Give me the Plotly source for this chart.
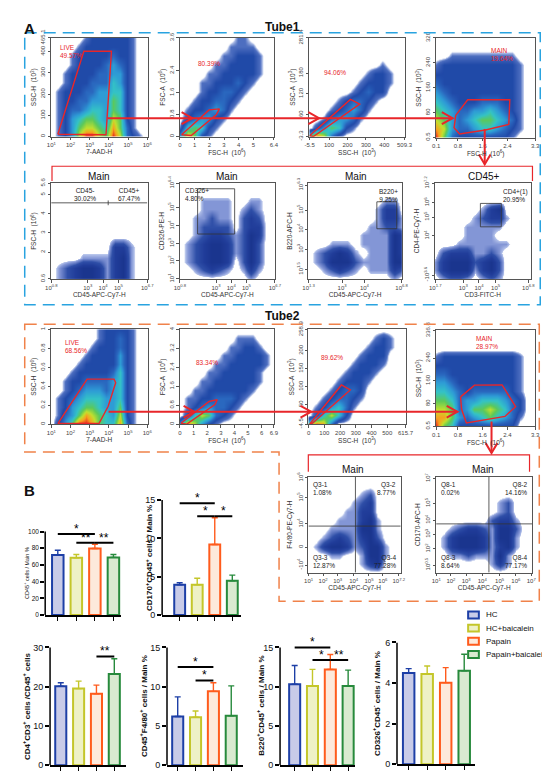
import numpy as np
import plotly.graph_objects as go

W, H = 550, 774

# ---------------- panel B: bar charts ----------------
groups = ["HC", "HC+baicalein", "Papain", "Papain+baicalein"]
edge_colors = ["#1d3fa6", "#c4c62a", "#ff5b1c", "#278a3c"]
fill_colors = ["#c8cbe8", "#eef1c6", "#fde9db", "#d9ead0"]

cd45_mean = [72.0, 68.6, 79.6, 69.0]
cd45_sd = [5.6, 3.9, 5.1, 3.5]
cd170_mean = [3.95, 3.95, 9.2, 4.46]
cd170_sd = [0.25, 0.85, 3.5, 0.74]
cd4_mean = [20.1, 19.5, 18.2, 23.2]
cd4_sd = [0.9, 1.9, 2.2, 3.9]
f480_mean = [6.2, 6.1, 9.4, 6.3]
f480_sd = [2.5, 0.8, 1.1, 3.8]
b220_mean = [10.3, 10.1, 12.2, 10.1]
b220_sd = [2.4, 2.1, 1.9, 2.0]
cd326_mean = [4.50, 4.45, 4.02, 4.61]
cd326_sd = [0.21, 0.39, 0.74, 0.81]

# significance brackets: (group a, group b, height, stars)
cd45_sig = [(1, 3, 97, "*"), (2, 3, 86.5, "**"), (3, 4, 86.5, "**")]
cd170_sig = [(1, 3, 14.6, "*"), (2, 3, 12.9, "*"), (3, 4, 12.9, "*")]
cd4_sig = [(3, 4, 27.7, "**")]
f480_sig = [(1, 3, 12.5, "*"), (2, 3, 10.8, "*")]
b220_sig = [(1, 3, 15.0, "*"), (2, 3, 13.4, "*"), (3, 4, 13.4, "**")]
cd326_sig = []

# ---------------- panel A: flow cytometry dot plots ----------------
# density level on a coarse grid (top row first)
t1_live = ["000001222222100", "000012222222100", "000122222322100", "000122223432100",
           "001222233442100", "001222333542100", "012223344552100", "012233444652100",
           "012334554652100", "012456654762100", "012467765863100", "012479976973210"]
t1_fsc = ["00000000110000", "00000001111000", "00000011222100", "00000112222100",
          "00001122222100", "00011222321000", "00012233210000", "00122332100000",
          "01223431000000", "02344210000000", "15652100000000", "48621000000000"]
t1_ssc = ["00000000000000", "00000000000000", "00000000000000", "00000000001000",
          "00000000122100", "00000001222100", "00000012322000", "00001233210000",
          "00012343100000", "00134431000000", "02465210000000", "69731000000000"]
t1_main = ["00000000000000", "00000000000000", "00111111111000", "12222222222100",
           "22222222222100", "32222222222100", "43222222222100", "54322233322100",
           "65433445432100", "76434566543100", "87433455432100", "96322222221000"]
t1_cd45 = ["0000000000000", "0000000000000", "0000000000000", "0000000000000",
           "0000000000000", "0000000000000", "0000000033100", "0000111134100",
           "0123443134100", "0123443134100"]
t1_cd326 = ["0000000000000", "0000000000000", "0001111001100", "0001111012100",
            "0011211023200", "0012222023300", "0012332124300", "0123443124200",
            "0123443124200", "0123443024200", "0012321013100", "0000000001000"]
t1_b220 = ["0000000000000", "0000000000000", "0000000000110", "0000000001330",
           "0000000001331", "0000000011221", "0000000111143", "0001110111143",
           "0123431011143", "0124442111144", "0012321011132", "0000000000010"]
t1_cd4 = ["0000000000000", "0000000000000", "0000000000000", "0000001340000",
          "0000012331000", "0000111110000", "0000111100000", "0001111111000",
          "0233311210000", "1344423420000", "1344413420000", "0122101210000"]
t2_live = ["000000012222100", "000000012232100", "000000122232100", "000001222242100",
           "000012222242100", "000122222352100", "001223333452100", "001234443452100",
           "012345554452100", "012456654462100", "013468765472100", "024699865583100"]
t2_fsc = ["00000000000000", "00000000111000", "00000001122100", "00000011222210",
          "00000112222210", "00001122222100", "00011222222100", "00112222221000",
          "01122333210000", "01234332100000", "02576321000000", "49742100000000"]
t2_ssc = ["00000000000000", "00000000012100", "00000000122100", "00000001222000",
          "00000012221000", "00000122210000", "00001222100000", "00012332000000",
          "00123321000000", "01245310000000", "02575200000000", "69830000000000"]
t2_main = ["00000000000000", "00000000000000", "00000000000000", "12222222222100",
           "22222222222100", "33222222222100", "44322222222100", "55432333332100",
           "66534455543200", "77634667653200", "88643456543100", "96522222222000"]
t2_f480 = ["0000000000000", "0000000000000", "0000000120000", "0000001230000",
           "0000011330000", "0000111341000", "0001111441000", "0012321342000",
           "0134431244100", "0001100144100", "0000000134000", "0000000000000"]
t2_cd170 = ["0000000000000", "0000000000000", "0000000000000", "0000000012000",
            "0000000012000", "0000000233100", "0012332144200", "0134443144100",
            "0134443134100", "0011211141000", "0000000131000", "0000000000000"]


def lin(lo, hi, vals):
    return [(v - lo) / (hi - lo) * 100 for v in vals], ["%g" % v for v in vals]


def sup(exps):
    return ["%s10<sup>%s</sup>" % (("-", e[1:]) if e.startswith("-") else ("", e)) for e in exps]


x_7aad = ([0, 20, 40, 60, 80, 100], sup(["1", "2", "3", "4", "5", "6"]))
x_cd45a = ([0, 38, 54, 70, 100], sup(["0.8", "3", "4", "5", "6.7"]))
x_cd45q = ([0, 15.8, 31.6, 49, 65.6, 80.7, 98], sup(["1", "2", "3", "4", "5", "6", "7.2"]))
x_cd45r = ([0, 15.3, 31.2, 48, 66, 83, 99], sup(["1", "2", "3", "4", "5", "6", "7"]))

RED = "#e8262a"
pseudo_cs = [[0, "#ffffff"], [0.06, "#ffffff"], [0.07, "#b7c5ea"], [0.11, "#4d6ec0"],
             [0.22, "#2049a8"], [0.33, "#2a66be"], [0.44, "#2e9ad6"], [0.56, "#34c3c6"],
             [0.67, "#5cc95a"], [0.78, "#c2e02e"], [0.89, "#f7a21f"], [1, "#e52520"]]
dot_cs = [[0, "#ffffff"], [0.14, "#ffffff"], [0.16, "#b4c2ea"], [0.25, "#8396d6"],
          [0.5, "#2f4fa8"], [0.75, "#213d9a"], [1, "#1a358e"]]

fig = go.Figure()
lay = dict(width=W, height=H, margin=dict(l=0, r=0, t=0, b=0), showlegend=False,
           paper_bgcolor="white", plot_bgcolor="white", barmode="overlay",
           font=dict(family="Arial, Liberation Sans, sans-serif", color="#222"))
shapes, annos = [], []
count = [0]


def next_axes():
    count[0] += 1
    s = "" if count[0] == 1 else str(count[0])
    return "xaxis" + s, "yaxis" + s, "x" + s, "y" + s


flow_style = dict(showline=True, mirror=True, linecolor="#555", linewidth=0.8,
                  ticks="outside", ticklen=2.5, tickwidth=0.8, tickcolor="#555",
                  showgrid=False, zeroline=False, range=[-0.3, 100.3],
                  tickfont=dict(size=6, color="#444"))


def flow_panel(box, grid, pseudo, xt, yt, xtitle, ytitle):
    xa, ya, xr, yr = next_axes()
    z = [[int(c) for c in row] for row in grid[::-1]]
    fig.add_trace(go.Heatmap(z=z, x=np.linspace(0, 100, len(z[0])), y=np.linspace(0, 100, len(z)),
                             zmin=0, zmax=9 if pseudo else 4,
                             colorscale=pseudo_cs if pseudo else dot_cs,
                             zsmooth="best", showscale=False, hoverinfo="skip",
                             xaxis=xr, yaxis=yr))
    l, t, r, b = box
    lay[xa] = dict(flow_style, domain=[l / W, r / W], anchor=yr, tickvals=xt[0], ticktext=xt[1],
                   title=dict(text=xtitle, font=dict(size=6.5, color="#333"), standoff=2))
    lay[ya] = dict(flow_style, domain=[1 - b / H, 1 - t / H], anchor=xr, tickvals=yt[0],
                   ticktext=yt[1], tickangle=-90,
                   title=dict(text=ytitle, font=dict(size=6.5, color="#333"), standoff=2))
    return xr, yr


def line(refs, xs, ys, color=RED, width=1.4):
    fig.add_trace(go.Scatter(x=xs, y=ys, mode="lines", line=dict(color=color, width=width),
                             hoverinfo="skip", showlegend=False, xaxis=refs[0], yaxis=refs[1]))


def label(refs, x, y, text, color=RED, xanchor="left", yanchor="top", size=6.5):
    annos.append(dict(x=x, y=y, xref=refs[0], yref=refs[1], text=text, showarrow=False,
                      xanchor=xanchor, yanchor=yanchor, align=xanchor if xanchor != "center" else "center",
                      font=dict(size=size, color=color)))


# Tube1, first row
p = flow_panel((38, 21, 137, 122), t1_live, True, x_7aad, lin(0, 465.1, [0, 100, 200, 300, 400, 465.1]),
               "7-AAD-H", "SSC-H  (10<sup>3</sup>)")
line(p, [6.8, 33.9, 62.7, 57, 6.8], [2.3, 86.5, 86.5, 1.7, 2.3])
label(p, 7, 96, "LIVE<br>49.57%")
p = flow_panel((170, 21, 267, 122), t1_fsc, True, lin(0, 6.4, [0, 1, 2, 3, 4, 5, 6.4]),
               lin(0, 3.6, [0, 0.8, 1.6, 2.4, 3.6]), "FSC-H  (10<sup>6</sup>)", "FSC-A  (10<sup>6</sup>)")
line(p, [1.7, 31, 42, 38.6, 12, 1.7], [1.7, 27, 28, 22, 1, 1.7])
label(p, 31, 74, "80.39%", xanchor="center", yanchor="middle")
p = flow_panel((303, 21, 401, 122), t1_ssc, True, lin(-5.5, 509.3, [-5.5, 100, 200, 300, 400, 509.3]),
               lin(-3.3, 281.4, [-3.3, 60, 120, 180, 281.4]), "SSC-H  (10<sup>3</sup>)", "SSC-A  (10<sup>3</sup>)")
line(p, [0, 43, 52.8, 4.1, 0], [0.7, 37.6, 32.9, 0, 0.7])
label(p, 26.5, 65.4, "94.06%", xanchor="center", yanchor="middle")
p = flow_panel((433, 21, 535, 123), t1_main, True, lin(0.1, 3.3, [0.1, 0.8, 1.6, 2.4, 3.3]),
               lin(0.5, 320, [0.5, 80, 160, 240, 320]), "FSC-H  (10<sup>6</sup>)", "SSC-H  (10<sup>3</sup>)")
line(p, [19.7, 31.8, 74.4, 73.4, 49.8, 23.6, 18, 19.7], [22.2, 37.9, 37.9, 13.1, 7.5, 3.6, 9.8, 22.2])
label(p, 53.8, 93, "MAIN<br>19.64%")

# Tube1, second row
p = flow_panel((38, 169, 137, 267), t1_cd45, False, x_cd45a, lin(0.6, 5.6, [0.6, 2, 3, 4, 5, 5.6]),
               "CD45-APC-Cy7-H", "FSC-H  (10<sup>6</sup>)")
line(p, [0, 100], [79.5, 79.5], "#333", 0.8)
line(p, [59.3, 59.3], [77, 82], "#333", 0.8)
label(p, 35.6, 98, "CD45-<br>30.02%", "#222", "center")
label(p, 81.4, 98, "CD45+<br>67.47%", "#222", "center")
p = flow_panel((170, 169, 268, 267), t1_cd326, False, x_cd45a,
               ([0, 18.8, 37, 55.5, 74.3, 100], sup(["1", "2", "3", "4", "5", "6.4"])),
               "CD45-APC-Cy7-H", "CD326-PE-H")
line(p, [18.6, 57.6, 57.6, 18.6, 18.6], [94.2, 94.2, 46.9, 46.9, 94.2], "#333", 0.8)
label(p, 2.7, 98, "CD326+<br>4.80%", "#222")
p = flow_panel((302, 169, 398, 267), t1_b220, False,
               ([0, 36, 60, 100], sup(["1.3", "3", "4", "6.8"])),
               ([10, 31, 52, 72, 98], sup(["1.5", "3", "4", "5", "6.3"])),
               "CD45-APC-Cy7-H", "B220-APC-H")
line(p, [73.4, 94.8, 94.8, 73.4, 73.4], [80.6, 80.6, 52.4, 52.4, 80.6], "#333", 0.8)
label(p, 86, 97, "B220+<br>9.25%", "#222", "center")
p = flow_panel((432, 169, 530, 267), t1_cd4, False,
               ([0, 29.5, 46, 63.5, 98], sup(["1.7", "3", "4", "5", "6.8"])),
               ([4, 45, 64.6, 79.6, 100], sup(["-3.6", "4", "5", "6", "7.2"])),
               "CD3-FITC-H", "CD4-PE-Cy7-H")
line(p, [47.5, 69.5, 69.5, 47.5, 47.5], [78.9, 78.9, 54.4, 54.4, 78.9], "#333", 0.8)
label(p, 69.5, 97, "CD4+(1)<br>20.95%", "#222")

# Tube2, first row
p = flow_panel((38, 318, 137, 415), t2_live, True, x_7aad, lin(0, 1, [0, 0.2, 0.4, 0.6, 0.8, 1]),
               "7-AAD-H", "SSC-H  (10<sup>6</sup>)")
line(p, [6.8, 37.3, 65.4, 67.1, 59.3, 49.8, 6.8], [0.7, 47.6, 47.6, 43.8, 19, 1, 0.7])
label(p, 12.5, 92, "LIVE<br>68.56%")
p = flow_panel((170, 318, 267, 415), t2_fsc, True, lin(0, 6.9, [0, 1, 2, 3, 4, 5, 6, 6.9]),
               lin(0, 4, [0, 0.8, 1.6, 2.4, 3.2, 4]), "FSC-H  (10<sup>6</sup>)", "FSC-A  (10<sup>6</sup>)")
line(p, [1, 31, 39.7, 37.2, 6.9, 1], [1, 24, 25.9, 20.7, 0, 1])
label(p, 29.3, 65.5, "83.34%", xanchor="center", yanchor="middle")
p = flow_panel((302, 318, 402, 415), t2_ssc, True, lin(0, 615.7, [0, 100, 200, 300, 400, 500, 615.7]),
               lin(-4.5, 258.9, [-4.5, 50, 100, 150, 200, 258.9]), "SSC-H  (10<sup>3</sup>)", "SSC-A  (10<sup>3</sup>)")
line(p, [1, 33.9, 43, 2.7, 1], [0, 41.4, 36.2, 0, 0])
label(p, 24.5, 70.7, "89.62%", xanchor="center", yanchor="middle")
p = flow_panel((433, 319, 535, 417), t2_main, True, lin(0.1, 3.3, [0.1, 0.8, 1.6, 2.4, 3.3]),
               lin(0.5, 336.8, [0.5, 80, 160, 240, 336.8]), "FSC-H  (10<sup>6</sup>)", "SSC-H  (10<sup>3</sup>)")
line(p, [24.6, 38.7, 66.6, 80.3, 69.5, 30.5, 25.6, 24.6], [30.6, 42.9, 43.2, 20.4, 10.2, 3.4, 17.7, 30.6])
label(p, 38.4, 97, "MAIN<br>28.97%")

# Tube2, quadrant plots
p = flow_panel((302, 468, 397, 566), t2_f480, False, x_cd45q,
               ([7.8, 26.4, 50.8, 78, 99], ["-10<sup>4</sup>", "0", "10<sup>4</sup>", "10<sup>5</sup>", "10<sup>6</sup>"]),
               "CD45-APC-Cy7-H", "F4/80-PE-Cy7-H")
line(p, [50.9, 50.9], [0, 100], "#333", 0.8)
line(p, [0, 100], [48.5, 48.5], "#333", 0.8)
label(p, 2.5, 98, "Q3-1<br>1.08%", "#222")
label(p, 97, 98, "Q3-2<br>8.77%", "#222", "right")
label(p, 2.5, 2, "Q3-3<br>12.87%", "#222", yanchor="bottom")
label(p, 97, 2, "Q3-4<br>77.28%", "#222", "right", "bottom")
p = flow_panel((433, 468, 532, 566), t2_cd170, False, x_cd45r,
               ([7.8, 24.7, 40, 54.6, 72.2, 98.3], sup(["0.5", "2", "3", "4", "5", "7"])),
               "CD45-APC-Cy7-H", "CD170-APC-H")
line(p, [54.9, 54.9], [0, 100], "#333", 0.8)
line(p, [0, 100], [50.8, 50.8], "#333", 0.8)
label(p, 2.5, 98, "Q8-1<br>0.02%", "#222")
label(p, 97, 98, "Q8-2<br>14.16%", "#222", "right")
label(p, 2.5, 2, "Q8-3<br>8.64%", "#222", yanchor="bottom")
label(p, 97, 2, "Q8-4<br>77.17%", "#222", "right", "bottom")


# ---------------- bar charts ----------------
def bar_chart(left, right, zero_px, max_px, top_px, xrange, ymax, dtick, means, sds, sig,
              title, title_x, title_size, tick_size):
    xa, ya, xr, yr = next_axes()
    for k in range(4):
        fig.add_trace(go.Bar(x=[k + 1], y=[means[k]], width=0.62, name=groups[k],
                             marker=dict(color=fill_colors[k], line=dict(color=edge_colors[k], width=2)),
                             error_y=dict(type="data", symmetric=False, array=[sds[k]], arrayminus=[0],
                                          color=edge_colors[k], thickness=1.4, width=3),
                             hoverinfo="skip", xaxis=xr, yaxis=yr))
    for a, b, lvl, stars in sig:
        line((xr, yr), [a, b], [lvl, lvl], "black", 2)
        annos.append(dict(x=(a + b) / 2, y=lvl, xref=xr, yref=yr, text=stars, showarrow=False,
                          yanchor="bottom", yshift=-4, font=dict(size=12, color="black")))
    top = ymax * (zero_px - top_px) / (zero_px - max_px)
    lay[xa] = dict(domain=[left / W, right / W], anchor=yr, range=xrange, showline=True,
                   linecolor="black", linewidth=1.5, ticks="outside", ticklen=4, tickwidth=1.3,
                   tickcolor="black", tickvals=[1, 2, 3, 4], showticklabels=False,
                   showgrid=False, zeroline=False)
    lay[ya] = dict(domain=[1 - zero_px / H, 1 - top_px / H], anchor=xr, range=[0, top],
                   tickvals=list(np.arange(0, ymax + dtick / 2, dtick)), ticks="outside",
                   ticklen=4, tickwidth=1.5, tickcolor="black", showline=False, showgrid=False,
                   zeroline=False, tickfont=dict(size=tick_size, color="#111"))
    shapes.append(dict(type="line", xref=xr + " domain", yref=yr, x0=0, x1=0, y0=0, y1=ymax,
                       line=dict(color="black", width=1.5)))
    annos.append(dict(x=title_x / W, y=1 - (zero_px + max_px) / 2 / H, xref="paper", yref="paper",
                      text=title, textangle=-90, showarrow=False, xanchor="center", yanchor="middle",
                      font=dict(size=title_size, color="#111")))


bar_chart(32, 110, 609, 524, 508, [0.32, 4.42], 100, 20, cd45_mean, cd45_sd, cd45_sig,
          "CD45<sup>+</sup> cells / Main %", 13, 5.5, 6.5)
bar_chart(152, 233, 609, 492, 480, [0, 4.5], 15, 5, cd170_mean, cd170_sd, cd170_sig,
          "<b>CD170<sup>+</sup>CD45<sup>+</sup> cells / Main %</b>", 138, 8, 9)
bar_chart(37, 115, 762, 642, 630, [0.4, 4.66], 30, 10, cd4_mean, cd4_sd, cd4_sig,
          "<b>CD4<sup>+</sup>CD3<sup>+</sup> cells /CD45<sup>+</sup> cells</b>", 13, 8, 9)
bar_chart(157, 235, 762, 642, 630, [0.4, 4.66], 15, 5, f480_mean, f480_sd, f480_sig,
          "<b>CD45<sup>+</sup>F4/80<sup>+</sup> cells / Main %</b>", 133, 8, 9)
bar_chart(273, 350, 762, 642, 626, [0.18, 4.39], 15, 5, b220_mean, b220_sd, b220_sig,
          "<b>B220<sup>+</sup>CD45<sup>+</sup> cells / Main %</b>", 253, 8, 9)
bar_chart(393, 473, 761, 637, 637, [0.37, 4.58], 6, 2, cd326_mean, cd326_sd, cd326_sig,
          "<b>CD326<sup>+</sup>CD45<sup>-</sup> cells / Main %</b>", 372, 8, 9)

# legend, drawn by hand so the rows sit as tight as in the figure
for k, g in enumerate(groups):
    yc = 609 + k * 13.4
    shapes.append(dict(type="rect", xref="paper", yref="paper", x0=466 / W, x1=477 / W,
                       y0=1 - (yc + 3.5) / H, y1=1 - (yc - 3.5) / H, fillcolor=fill_colors[k],
                       line=dict(color=edge_colors[k], width=2)))
    annos.append(dict(x=482 / W, y=1 - yc / H, xref="paper", yref="paper", text=g, showarrow=False,
                      xanchor="left", yanchor="middle", font=dict(size=8, color="#111")))


# ---------------- frames, arrows and headings ----------------
def path(pts, close=False):
    s = " ".join(("M" if i == 0 else "L") + " %.4f,%.4f" % (x / W, 1 - y / H) for i, (x, y) in enumerate(pts))
    return s + (" Z" if close else "")


def draw(pts, color, width, dash=None, close=False):
    ln = dict(color=color, width=width)
    if dash:
        ln["dash"] = dash
    shapes.append(dict(type="path", xref="paper", yref="paper", path=path(pts, close), line=ln,
                       layer="above"))


draw([(11, 16), (540, 16), (540, 293), (11, 293)], "#29a3e0", 1.5, "12px,7px", True)
draw([(11, 313), (539, 313), (539, 595), (272, 595), (272, 443), (11, 443)], "#f0824a", 1.5, "12px,7px", True)

for y, x0, x1, tips in [(103, 96, 450, [183, 313, 450]), (402, 97, 455, [185, 305, 455])]:
    draw([(x0, y), (x1, y)], RED, 2)
    for tx in tips:
        draw([(tx - 11, y - 6), (tx, y), (tx - 11, y + 6)], RED, 2)
for x, y0, y1 in [(483, 114, 150), (490, 412, 444)]:
    draw([(x, y0), (x, y1)], RED, 2)
    draw([(x - 6, y1 - 10), (x, y1), (x + 6, y1 - 10)], RED, 2)
draw([(39, 167), (39, 152), (532, 152), (532, 167)], RED, 1.2)
draw([(302, 463), (302, 446), (529, 446), (529, 463)], RED, 1.2)


def text(x, y, s, size, bold=False, anchor="center"):
    annos.append(dict(x=x / W, y=1 - y / H, xref="paper", yref="paper", showarrow=False,
                      text="<b>%s</b>" % s if bold else s, xanchor=anchor, yanchor="middle",
                      font=dict(size=size, color="#111")))


text(8, 12, "A", 15, True, "left")
text(8, 482, "B", 15, True, "left")
text(276, 10, "Tube1", 12, True)
text(276, 305, "Tube2", 12, True)
for x, y, s in [(87, 162, "Main"), (219, 162, "Main"), (351, 162, "Main"), (482, 162, "CD45+"),
                (348, 461, "Main"), (481, 461, "Main")]:
    text(x, y, s, 10)

lay["shapes"] = shapes
lay["annotations"] = annos
fig.update_layout(**lay)
fig.write_html("out.html")
